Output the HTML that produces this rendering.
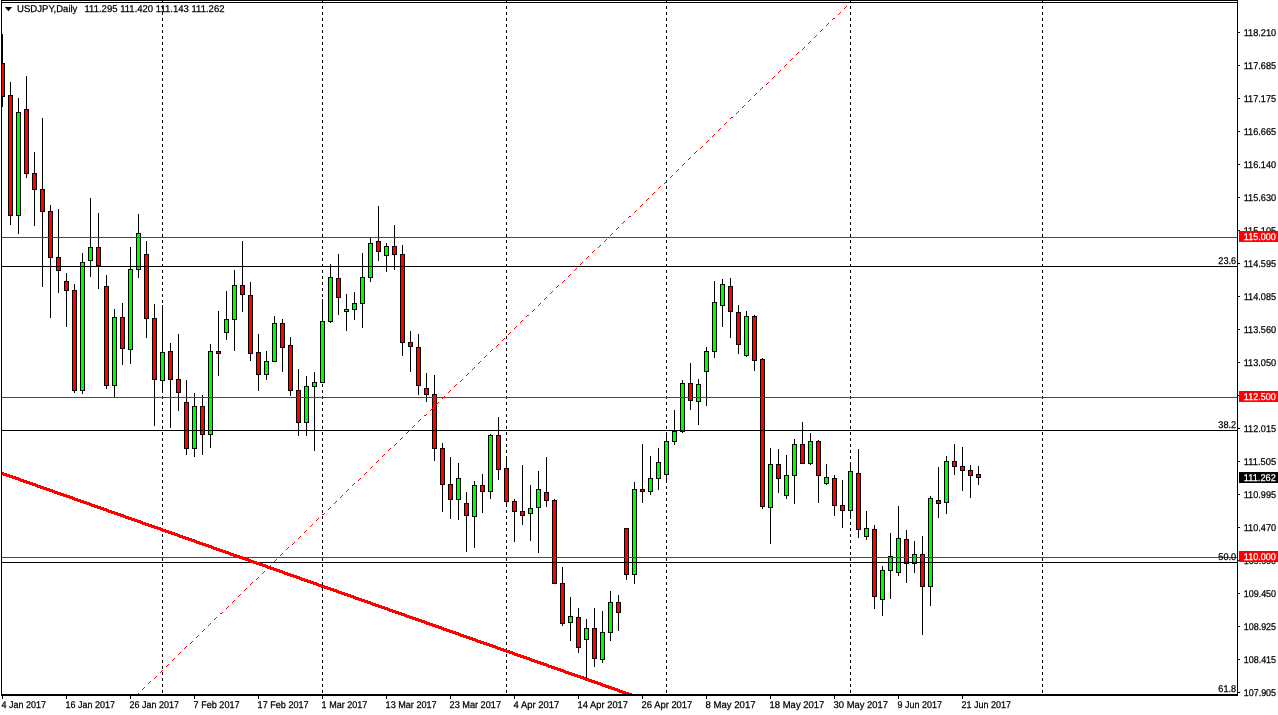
<!DOCTYPE html>
<html><head><meta charset="utf-8"><title>USDJPY,Daily</title>
<style>html,body{margin:0;padding:0;background:#fff;overflow:hidden}svg{display:block}text{font-family:"Liberation Sans",sans-serif;font-size:9.8px;text-rendering:geometricPrecision;fill:#000;stroke:#000;stroke-width:0.25px}.w{fill:#fff;stroke:#fff}</style>
</head><body>
<svg width="1278" height="715" viewBox="0 0 1278 715">
<rect x="0" y="0" width="1278" height="715" fill="#fff"/>
<defs><clipPath id="plot"><rect x="2" y="3" width="1235" height="691"/></clipPath><clipPath id="sep"><rect x="2" y="0" width="1235" height="694"/></clipPath></defs>
<g clip-path="url(#plot)">
<g shape-rendering="crispEdges">
<line x1="162.5" y1="0" x2="162.5" y2="694" stroke="#000" stroke-width="1" stroke-dasharray="3 3"/>
<line x1="322.5" y1="0" x2="322.5" y2="694" stroke="#000" stroke-width="1" stroke-dasharray="3 3"/>
<line x1="506.5" y1="0" x2="506.5" y2="694" stroke="#000" stroke-width="1" stroke-dasharray="3 3"/>
<line x1="666.5" y1="0" x2="666.5" y2="694" stroke="#000" stroke-width="1" stroke-dasharray="3 3"/>
<line x1="850.5" y1="0" x2="850.5" y2="694" stroke="#000" stroke-width="1" stroke-dasharray="3 3"/>
<line x1="1042.5" y1="0" x2="1042.5" y2="694" stroke="#000" stroke-width="1" stroke-dasharray="3 3"/>
</g>
<g shape-rendering="crispEdges">
<rect x="2" y="34" width="1" height="73" fill="#000"/>
<rect x="0" y="63" width="5" height="34" fill="#000"/>
<rect x="1" y="64" width="3" height="32" fill="#f00"/>
<rect x="10" y="82" width="1" height="143" fill="#000"/>
<rect x="8" y="95" width="5" height="121" fill="#000"/>
<rect x="9" y="96" width="3" height="119" fill="#f00"/>
<rect x="18" y="98" width="1" height="136" fill="#000"/>
<rect x="16" y="112" width="5" height="104" fill="#000"/>
<rect x="17" y="113" width="3" height="102" fill="#0f0"/>
<rect x="26" y="76" width="1" height="102" fill="#000"/>
<rect x="24" y="109" width="5" height="65" fill="#000"/>
<rect x="25" y="110" width="3" height="63" fill="#f00"/>
<rect x="34" y="152" width="1" height="74" fill="#000"/>
<rect x="32" y="173" width="5" height="17" fill="#000"/>
<rect x="33" y="174" width="3" height="15" fill="#f00"/>
<rect x="42" y="118" width="1" height="169" fill="#000"/>
<rect x="40" y="189" width="5" height="23" fill="#000"/>
<rect x="41" y="190" width="3" height="21" fill="#f00"/>
<rect x="50" y="205" width="1" height="113" fill="#000"/>
<rect x="48" y="211" width="5" height="47" fill="#000"/>
<rect x="49" y="212" width="3" height="45" fill="#f00"/>
<rect x="58" y="209" width="1" height="84" fill="#000"/>
<rect x="56" y="257" width="5" height="14" fill="#000"/>
<rect x="57" y="258" width="3" height="12" fill="#f00"/>
<rect x="66" y="273" width="1" height="54" fill="#000"/>
<rect x="64" y="281" width="5" height="10" fill="#000"/>
<rect x="65" y="282" width="3" height="8" fill="#f00"/>
<rect x="74" y="284" width="1" height="109" fill="#000"/>
<rect x="72" y="290" width="5" height="101" fill="#000"/>
<rect x="73" y="291" width="3" height="99" fill="#f00"/>
<rect x="82" y="253" width="1" height="141" fill="#000"/>
<rect x="80" y="262" width="5" height="129" fill="#000"/>
<rect x="81" y="263" width="3" height="127" fill="#0f0"/>
<rect x="90" y="198" width="1" height="79" fill="#000"/>
<rect x="88" y="247" width="5" height="14" fill="#000"/>
<rect x="89" y="248" width="3" height="12" fill="#0f0"/>
<rect x="98" y="213" width="1" height="76" fill="#000"/>
<rect x="96" y="247" width="5" height="19" fill="#000"/>
<rect x="97" y="248" width="3" height="17" fill="#f00"/>
<rect x="106" y="275" width="1" height="114" fill="#000"/>
<rect x="104" y="286" width="5" height="100" fill="#000"/>
<rect x="105" y="287" width="3" height="98" fill="#f00"/>
<rect x="114" y="309" width="1" height="88" fill="#000"/>
<rect x="112" y="317" width="5" height="69" fill="#000"/>
<rect x="113" y="318" width="3" height="67" fill="#0f0"/>
<rect x="122" y="303" width="1" height="62" fill="#000"/>
<rect x="120" y="317" width="5" height="32" fill="#000"/>
<rect x="121" y="318" width="3" height="30" fill="#f00"/>
<rect x="130" y="247" width="1" height="117" fill="#000"/>
<rect x="128" y="269" width="5" height="81" fill="#000"/>
<rect x="129" y="270" width="3" height="79" fill="#0f0"/>
<rect x="138" y="214" width="1" height="64" fill="#000"/>
<rect x="136" y="233" width="5" height="37" fill="#000"/>
<rect x="137" y="234" width="3" height="35" fill="#0f0"/>
<rect x="146" y="241" width="1" height="97" fill="#000"/>
<rect x="144" y="254" width="5" height="65" fill="#000"/>
<rect x="145" y="255" width="3" height="63" fill="#f00"/>
<rect x="154" y="304" width="1" height="122" fill="#000"/>
<rect x="152" y="318" width="5" height="62" fill="#000"/>
<rect x="153" y="319" width="3" height="60" fill="#f00"/>
<rect x="162" y="305" width="1" height="87" fill="#000"/>
<rect x="160" y="352" width="5" height="29" fill="#000"/>
<rect x="161" y="353" width="3" height="27" fill="#0f0"/>
<rect x="170" y="343" width="1" height="85" fill="#000"/>
<rect x="168" y="351" width="5" height="29" fill="#000"/>
<rect x="169" y="352" width="3" height="27" fill="#f00"/>
<rect x="178" y="334" width="1" height="77" fill="#000"/>
<rect x="176" y="379" width="5" height="14" fill="#000"/>
<rect x="177" y="380" width="3" height="12" fill="#f00"/>
<rect x="186" y="380" width="1" height="75" fill="#000"/>
<rect x="184" y="402" width="5" height="47" fill="#000"/>
<rect x="185" y="403" width="3" height="45" fill="#f00"/>
<rect x="194" y="393" width="1" height="64" fill="#000"/>
<rect x="192" y="406" width="5" height="43" fill="#000"/>
<rect x="193" y="407" width="3" height="41" fill="#0f0"/>
<rect x="202" y="395" width="1" height="60" fill="#000"/>
<rect x="200" y="406" width="5" height="29" fill="#000"/>
<rect x="201" y="407" width="3" height="27" fill="#f00"/>
<rect x="210" y="344" width="1" height="104" fill="#000"/>
<rect x="208" y="351" width="5" height="84" fill="#000"/>
<rect x="209" y="352" width="3" height="82" fill="#0f0"/>
<rect x="218" y="311" width="1" height="65" fill="#000"/>
<rect x="216" y="351" width="5" height="3" fill="#000"/>
<rect x="217" y="352" width="3" height="1" fill="#f00"/>
<rect x="226" y="291" width="1" height="49" fill="#000"/>
<rect x="224" y="319" width="5" height="14" fill="#000"/>
<rect x="225" y="320" width="3" height="12" fill="#0f0"/>
<rect x="234" y="270" width="1" height="81" fill="#000"/>
<rect x="232" y="285" width="5" height="35" fill="#000"/>
<rect x="233" y="286" width="3" height="33" fill="#0f0"/>
<rect x="242" y="241" width="1" height="71" fill="#000"/>
<rect x="240" y="285" width="5" height="10" fill="#000"/>
<rect x="241" y="286" width="3" height="8" fill="#f00"/>
<rect x="250" y="282" width="1" height="79" fill="#000"/>
<rect x="248" y="295" width="5" height="59" fill="#000"/>
<rect x="249" y="296" width="3" height="57" fill="#f00"/>
<rect x="258" y="334" width="1" height="57" fill="#000"/>
<rect x="256" y="352" width="5" height="23" fill="#000"/>
<rect x="257" y="353" width="3" height="21" fill="#f00"/>
<rect x="266" y="351" width="1" height="29" fill="#000"/>
<rect x="264" y="361" width="5" height="14" fill="#000"/>
<rect x="265" y="362" width="3" height="12" fill="#0f0"/>
<rect x="274" y="316" width="1" height="46" fill="#000"/>
<rect x="272" y="323" width="5" height="39" fill="#000"/>
<rect x="273" y="324" width="3" height="37" fill="#0f0"/>
<rect x="282" y="319" width="1" height="53" fill="#000"/>
<rect x="280" y="323" width="5" height="25" fill="#000"/>
<rect x="281" y="324" width="3" height="23" fill="#f00"/>
<rect x="290" y="337" width="1" height="59" fill="#000"/>
<rect x="288" y="345" width="5" height="46" fill="#000"/>
<rect x="289" y="346" width="3" height="44" fill="#f00"/>
<rect x="298" y="369" width="1" height="67" fill="#000"/>
<rect x="296" y="390" width="5" height="33" fill="#000"/>
<rect x="297" y="391" width="3" height="31" fill="#f00"/>
<rect x="306" y="376" width="1" height="60" fill="#000"/>
<rect x="304" y="386" width="5" height="37" fill="#000"/>
<rect x="305" y="387" width="3" height="35" fill="#0f0"/>
<rect x="314" y="372" width="1" height="79" fill="#000"/>
<rect x="312" y="382" width="5" height="5" fill="#000"/>
<rect x="313" y="383" width="3" height="3" fill="#0f0"/>
<rect x="322" y="299" width="1" height="84" fill="#000"/>
<rect x="320" y="321" width="5" height="62" fill="#000"/>
<rect x="321" y="322" width="3" height="60" fill="#0f0"/>
<rect x="330" y="264" width="1" height="59" fill="#000"/>
<rect x="328" y="277" width="5" height="45" fill="#000"/>
<rect x="329" y="278" width="3" height="43" fill="#0f0"/>
<rect x="338" y="254" width="1" height="61" fill="#000"/>
<rect x="336" y="278" width="5" height="20" fill="#000"/>
<rect x="337" y="279" width="3" height="18" fill="#f00"/>
<rect x="346" y="294" width="1" height="37" fill="#000"/>
<rect x="344" y="309" width="5" height="3" fill="#000"/>
<rect x="345" y="310" width="3" height="1" fill="#0f0"/>
<rect x="354" y="292" width="1" height="28" fill="#000"/>
<rect x="352" y="303" width="5" height="7" fill="#000"/>
<rect x="353" y="304" width="3" height="5" fill="#0f0"/>
<rect x="362" y="253" width="1" height="75" fill="#000"/>
<rect x="360" y="277" width="5" height="27" fill="#000"/>
<rect x="361" y="278" width="3" height="25" fill="#0f0"/>
<rect x="370" y="238" width="1" height="44" fill="#000"/>
<rect x="368" y="243" width="5" height="35" fill="#000"/>
<rect x="369" y="244" width="3" height="33" fill="#0f0"/>
<rect x="378" y="206" width="1" height="55" fill="#000"/>
<rect x="376" y="241" width="5" height="11" fill="#000"/>
<rect x="377" y="242" width="3" height="9" fill="#f00"/>
<rect x="386" y="243" width="1" height="29" fill="#000"/>
<rect x="384" y="246" width="5" height="10" fill="#000"/>
<rect x="385" y="247" width="3" height="8" fill="#0f0"/>
<rect x="394" y="225" width="1" height="45" fill="#000"/>
<rect x="392" y="246" width="5" height="9" fill="#000"/>
<rect x="393" y="247" width="3" height="7" fill="#f00"/>
<rect x="402" y="245" width="1" height="111" fill="#000"/>
<rect x="400" y="254" width="5" height="89" fill="#000"/>
<rect x="401" y="255" width="3" height="87" fill="#f00"/>
<rect x="410" y="331" width="1" height="41" fill="#000"/>
<rect x="408" y="342" width="5" height="5" fill="#000"/>
<rect x="409" y="343" width="3" height="3" fill="#f00"/>
<rect x="418" y="334" width="1" height="61" fill="#000"/>
<rect x="416" y="347" width="5" height="39" fill="#000"/>
<rect x="417" y="348" width="3" height="37" fill="#f00"/>
<rect x="426" y="373" width="1" height="29" fill="#000"/>
<rect x="424" y="388" width="5" height="7" fill="#000"/>
<rect x="425" y="389" width="3" height="5" fill="#f00"/>
<rect x="434" y="375" width="1" height="86" fill="#000"/>
<rect x="432" y="394" width="5" height="55" fill="#000"/>
<rect x="433" y="395" width="3" height="53" fill="#f00"/>
<rect x="442" y="443" width="1" height="69" fill="#000"/>
<rect x="440" y="448" width="5" height="37" fill="#000"/>
<rect x="441" y="449" width="3" height="35" fill="#f00"/>
<rect x="450" y="457" width="1" height="62" fill="#000"/>
<rect x="448" y="484" width="5" height="16" fill="#000"/>
<rect x="449" y="485" width="3" height="14" fill="#f00"/>
<rect x="458" y="463" width="1" height="57" fill="#000"/>
<rect x="456" y="478" width="5" height="22" fill="#000"/>
<rect x="457" y="479" width="3" height="20" fill="#0f0"/>
<rect x="466" y="492" width="1" height="60" fill="#000"/>
<rect x="464" y="503" width="5" height="13" fill="#000"/>
<rect x="465" y="504" width="3" height="11" fill="#f00"/>
<rect x="474" y="481" width="1" height="67" fill="#000"/>
<rect x="472" y="485" width="5" height="32" fill="#000"/>
<rect x="473" y="486" width="3" height="30" fill="#0f0"/>
<rect x="482" y="474" width="1" height="39" fill="#000"/>
<rect x="480" y="485" width="5" height="7" fill="#000"/>
<rect x="481" y="486" width="3" height="5" fill="#f00"/>
<rect x="490" y="434" width="1" height="65" fill="#000"/>
<rect x="488" y="435" width="5" height="57" fill="#000"/>
<rect x="489" y="436" width="3" height="55" fill="#0f0"/>
<rect x="498" y="417" width="1" height="63" fill="#000"/>
<rect x="496" y="435" width="5" height="35" fill="#000"/>
<rect x="497" y="436" width="3" height="33" fill="#f00"/>
<rect x="506" y="456" width="1" height="51" fill="#000"/>
<rect x="504" y="468" width="5" height="34" fill="#000"/>
<rect x="505" y="469" width="3" height="32" fill="#f00"/>
<rect x="514" y="499" width="1" height="43" fill="#000"/>
<rect x="512" y="501" width="5" height="11" fill="#000"/>
<rect x="513" y="502" width="3" height="9" fill="#f00"/>
<rect x="522" y="465" width="1" height="60" fill="#000"/>
<rect x="520" y="511" width="5" height="5" fill="#000"/>
<rect x="521" y="512" width="3" height="3" fill="#f00"/>
<rect x="530" y="485" width="1" height="56" fill="#000"/>
<rect x="528" y="508" width="5" height="6" fill="#000"/>
<rect x="529" y="509" width="3" height="4" fill="#0f0"/>
<rect x="538" y="471" width="1" height="82" fill="#000"/>
<rect x="536" y="489" width="5" height="19" fill="#000"/>
<rect x="537" y="490" width="3" height="17" fill="#0f0"/>
<rect x="546" y="457" width="1" height="50" fill="#000"/>
<rect x="544" y="492" width="5" height="9" fill="#000"/>
<rect x="545" y="493" width="3" height="7" fill="#f00"/>
<rect x="554" y="499" width="1" height="85" fill="#000"/>
<rect x="552" y="500" width="5" height="84" fill="#000"/>
<rect x="553" y="501" width="3" height="82" fill="#f00"/>
<rect x="562" y="567" width="1" height="59" fill="#000"/>
<rect x="560" y="583" width="5" height="41" fill="#000"/>
<rect x="561" y="584" width="3" height="39" fill="#f00"/>
<rect x="570" y="597" width="1" height="44" fill="#000"/>
<rect x="568" y="616" width="5" height="7" fill="#000"/>
<rect x="569" y="617" width="3" height="5" fill="#0f0"/>
<rect x="578" y="608" width="1" height="45" fill="#000"/>
<rect x="576" y="617" width="5" height="31" fill="#000"/>
<rect x="577" y="618" width="3" height="29" fill="#f00"/>
<rect x="586" y="619" width="1" height="59" fill="#000"/>
<rect x="584" y="628" width="5" height="12" fill="#000"/>
<rect x="585" y="629" width="3" height="10" fill="#0f0"/>
<rect x="594" y="608" width="1" height="59" fill="#000"/>
<rect x="592" y="628" width="5" height="31" fill="#000"/>
<rect x="593" y="629" width="3" height="29" fill="#f00"/>
<rect x="602" y="611" width="1" height="52" fill="#000"/>
<rect x="600" y="632" width="5" height="28" fill="#000"/>
<rect x="601" y="633" width="3" height="26" fill="#0f0"/>
<rect x="610" y="591" width="1" height="50" fill="#000"/>
<rect x="608" y="602" width="5" height="31" fill="#000"/>
<rect x="609" y="603" width="3" height="29" fill="#0f0"/>
<rect x="618" y="595" width="1" height="36" fill="#000"/>
<rect x="616" y="602" width="5" height="11" fill="#000"/>
<rect x="617" y="603" width="3" height="9" fill="#f00"/>
<rect x="626" y="528" width="1" height="52" fill="#000"/>
<rect x="624" y="528" width="5" height="47" fill="#000"/>
<rect x="625" y="529" width="3" height="45" fill="#f00"/>
<rect x="634" y="482" width="1" height="102" fill="#000"/>
<rect x="632" y="489" width="5" height="86" fill="#000"/>
<rect x="633" y="490" width="3" height="84" fill="#0f0"/>
<rect x="642" y="444" width="1" height="59" fill="#000"/>
<rect x="640" y="489" width="5" height="3" fill="#000"/>
<rect x="641" y="490" width="3" height="1" fill="#f00"/>
<rect x="650" y="456" width="1" height="39" fill="#000"/>
<rect x="648" y="478" width="5" height="14" fill="#000"/>
<rect x="649" y="479" width="3" height="12" fill="#0f0"/>
<rect x="658" y="448" width="1" height="42" fill="#000"/>
<rect x="656" y="462" width="5" height="17" fill="#000"/>
<rect x="657" y="463" width="3" height="15" fill="#0f0"/>
<rect x="666" y="432" width="1" height="51" fill="#000"/>
<rect x="664" y="441" width="5" height="34" fill="#000"/>
<rect x="665" y="442" width="3" height="32" fill="#0f0"/>
<rect x="674" y="410" width="1" height="35" fill="#000"/>
<rect x="672" y="431" width="5" height="11" fill="#000"/>
<rect x="673" y="432" width="3" height="9" fill="#0f0"/>
<rect x="682" y="380" width="1" height="53" fill="#000"/>
<rect x="680" y="383" width="5" height="49" fill="#000"/>
<rect x="681" y="384" width="3" height="47" fill="#0f0"/>
<rect x="690" y="363" width="1" height="47" fill="#000"/>
<rect x="688" y="383" width="5" height="18" fill="#000"/>
<rect x="689" y="384" width="3" height="16" fill="#f00"/>
<rect x="698" y="379" width="1" height="46" fill="#000"/>
<rect x="696" y="384" width="5" height="18" fill="#000"/>
<rect x="697" y="385" width="3" height="16" fill="#0f0"/>
<rect x="706" y="347" width="1" height="59" fill="#000"/>
<rect x="704" y="351" width="5" height="21" fill="#000"/>
<rect x="705" y="352" width="3" height="19" fill="#0f0"/>
<rect x="714" y="281" width="1" height="77" fill="#000"/>
<rect x="712" y="302" width="5" height="50" fill="#000"/>
<rect x="713" y="303" width="3" height="48" fill="#0f0"/>
<rect x="722" y="279" width="1" height="48" fill="#000"/>
<rect x="720" y="284" width="5" height="22" fill="#000"/>
<rect x="721" y="285" width="3" height="20" fill="#0f0"/>
<rect x="730" y="278" width="1" height="60" fill="#000"/>
<rect x="728" y="286" width="5" height="26" fill="#000"/>
<rect x="729" y="287" width="3" height="24" fill="#f00"/>
<rect x="738" y="305" width="1" height="49" fill="#000"/>
<rect x="736" y="312" width="5" height="33" fill="#000"/>
<rect x="737" y="313" width="3" height="31" fill="#f00"/>
<rect x="746" y="311" width="1" height="46" fill="#000"/>
<rect x="744" y="316" width="5" height="40" fill="#000"/>
<rect x="745" y="317" width="3" height="38" fill="#0f0"/>
<rect x="754" y="315" width="1" height="56" fill="#000"/>
<rect x="752" y="316" width="5" height="45" fill="#000"/>
<rect x="753" y="317" width="3" height="43" fill="#f00"/>
<rect x="762" y="358" width="1" height="151" fill="#000"/>
<rect x="760" y="359" width="5" height="148" fill="#000"/>
<rect x="761" y="360" width="3" height="146" fill="#f00"/>
<rect x="770" y="448" width="1" height="96" fill="#000"/>
<rect x="768" y="464" width="5" height="44" fill="#000"/>
<rect x="769" y="465" width="3" height="42" fill="#0f0"/>
<rect x="778" y="449" width="1" height="44" fill="#000"/>
<rect x="776" y="464" width="5" height="15" fill="#000"/>
<rect x="777" y="465" width="3" height="13" fill="#f00"/>
<rect x="786" y="455" width="1" height="44" fill="#000"/>
<rect x="784" y="475" width="5" height="21" fill="#000"/>
<rect x="785" y="476" width="3" height="19" fill="#0f0"/>
<rect x="794" y="439" width="1" height="65" fill="#000"/>
<rect x="792" y="444" width="5" height="32" fill="#000"/>
<rect x="793" y="445" width="3" height="30" fill="#0f0"/>
<rect x="802" y="422" width="1" height="42" fill="#000"/>
<rect x="800" y="444" width="5" height="20" fill="#000"/>
<rect x="801" y="445" width="3" height="18" fill="#f00"/>
<rect x="810" y="433" width="1" height="32" fill="#000"/>
<rect x="808" y="441" width="5" height="23" fill="#000"/>
<rect x="809" y="442" width="3" height="21" fill="#0f0"/>
<rect x="818" y="440" width="1" height="63" fill="#000"/>
<rect x="816" y="441" width="5" height="35" fill="#000"/>
<rect x="817" y="442" width="3" height="33" fill="#f00"/>
<rect x="826" y="464" width="1" height="21" fill="#000"/>
<rect x="824" y="477" width="5" height="7" fill="#000"/>
<rect x="825" y="478" width="3" height="5" fill="#0f0"/>
<rect x="834" y="475" width="1" height="41" fill="#000"/>
<rect x="832" y="478" width="5" height="28" fill="#000"/>
<rect x="833" y="479" width="3" height="26" fill="#f00"/>
<rect x="842" y="480" width="1" height="48" fill="#000"/>
<rect x="840" y="505" width="5" height="6" fill="#000"/>
<rect x="841" y="506" width="3" height="4" fill="#f00"/>
<rect x="850" y="462" width="1" height="56" fill="#000"/>
<rect x="848" y="471" width="5" height="40" fill="#000"/>
<rect x="849" y="472" width="3" height="38" fill="#0f0"/>
<rect x="858" y="449" width="1" height="89" fill="#000"/>
<rect x="856" y="473" width="5" height="57" fill="#000"/>
<rect x="857" y="474" width="3" height="55" fill="#f00"/>
<rect x="866" y="511" width="1" height="29" fill="#000"/>
<rect x="864" y="528" width="5" height="9" fill="#000"/>
<rect x="865" y="529" width="3" height="7" fill="#0f0"/>
<rect x="874" y="525" width="1" height="84" fill="#000"/>
<rect x="872" y="529" width="5" height="68" fill="#000"/>
<rect x="873" y="530" width="3" height="66" fill="#f00"/>
<rect x="882" y="566" width="1" height="50" fill="#000"/>
<rect x="880" y="570" width="5" height="30" fill="#000"/>
<rect x="881" y="571" width="3" height="28" fill="#0f0"/>
<rect x="890" y="533" width="1" height="66" fill="#000"/>
<rect x="888" y="556" width="5" height="15" fill="#000"/>
<rect x="889" y="557" width="3" height="13" fill="#0f0"/>
<rect x="898" y="506" width="1" height="70" fill="#000"/>
<rect x="896" y="538" width="5" height="35" fill="#000"/>
<rect x="897" y="539" width="3" height="33" fill="#0f0"/>
<rect x="906" y="530" width="1" height="53" fill="#000"/>
<rect x="904" y="539" width="5" height="25" fill="#000"/>
<rect x="905" y="540" width="3" height="23" fill="#f00"/>
<rect x="914" y="541" width="1" height="32" fill="#000"/>
<rect x="912" y="554" width="5" height="10" fill="#000"/>
<rect x="913" y="555" width="3" height="8" fill="#0f0"/>
<rect x="922" y="536" width="1" height="99" fill="#000"/>
<rect x="920" y="554" width="5" height="33" fill="#000"/>
<rect x="921" y="555" width="3" height="31" fill="#f00"/>
<rect x="930" y="496" width="1" height="110" fill="#000"/>
<rect x="928" y="498" width="5" height="89" fill="#000"/>
<rect x="929" y="499" width="3" height="87" fill="#0f0"/>
<rect x="938" y="467" width="1" height="51" fill="#000"/>
<rect x="936" y="500" width="5" height="4" fill="#000"/>
<rect x="937" y="501" width="3" height="2" fill="#f00"/>
<rect x="946" y="456" width="1" height="58" fill="#000"/>
<rect x="944" y="461" width="5" height="42" fill="#000"/>
<rect x="945" y="462" width="3" height="40" fill="#0f0"/>
<rect x="954" y="444" width="1" height="31" fill="#000"/>
<rect x="952" y="461" width="5" height="6" fill="#000"/>
<rect x="953" y="462" width="3" height="4" fill="#f00"/>
<rect x="962" y="447" width="1" height="44" fill="#000"/>
<rect x="960" y="466" width="5" height="5" fill="#000"/>
<rect x="961" y="467" width="3" height="3" fill="#f00"/>
<rect x="970" y="465" width="1" height="33" fill="#000"/>
<rect x="968" y="470" width="5" height="6" fill="#000"/>
<rect x="969" y="471" width="3" height="4" fill="#f00"/>
<rect x="978" y="466" width="1" height="19" fill="#000"/>
<rect x="976" y="474" width="5" height="4" fill="#000"/>
<rect x="977" y="475" width="3" height="2" fill="#f00"/>
</g>
<g shape-rendering="crispEdges">
<rect x="2" y="266" width="1235" height="1" fill="#000"/>
<rect x="2" y="430" width="1235" height="1" fill="#000"/>
<rect x="2" y="562" width="1235" height="1" fill="#000"/>
<rect x="2" y="237" width="1235" height="1" fill="#f00"/>
<rect x="2" y="397" width="1235" height="1" fill="#f00"/>
<rect x="2" y="557" width="1235" height="1" fill="#f00"/>
</g>
<path fill="#f00" shape-rendering="crispEdges" d="M1 471L2 471L2 472L4 472L4 473L7 473L7 474L10 474L10 475L13 475L13 476L16 476L16 477L19 477L19 478L21 478L21 479L24 479L24 480L27 480L27 481L30 481L30 482L33 482L33 483L36 483L36 484L38 484L38 485L41 485L41 486L44 486L44 487L47 487L47 488L50 488L50 489L53 489L53 490L55 490L55 491L58 491L58 492L61 492L61 493L64 493L64 494L67 494L67 495L70 495L70 496L73 496L73 497L75 497L75 498L78 498L78 499L81 499L81 500L84 500L84 501L87 501L87 502L90 502L90 503L92 503L92 504L95 504L95 505L98 505L98 506L101 506L101 507L104 507L104 508L107 508L107 509L109 509L109 510L112 510L112 511L115 511L115 512L118 512L118 513L121 513L121 514L124 514L124 515L126 515L126 516L129 516L129 517L132 517L132 518L135 518L135 519L138 519L138 520L141 520L141 521L143 521L143 522L146 522L146 523L149 523L149 524L152 524L152 525L155 525L155 526L158 526L158 527L161 527L161 528L163 528L163 529L166 529L166 530L169 530L169 531L172 531L172 532L175 532L175 533L178 533L178 534L180 534L180 535L183 535L183 536L186 536L186 537L189 537L189 538L192 538L192 539L195 539L195 540L197 540L197 541L200 541L200 542L203 542L203 543L206 543L206 544L209 544L209 545L212 545L212 546L214 546L214 547L217 547L217 548L220 548L220 549L223 549L223 550L226 550L226 551L229 551L229 552L231 552L231 553L234 553L234 554L237 554L237 555L240 555L240 556L243 556L243 557L246 557L246 558L249 558L249 559L251 559L251 560L254 560L254 561L257 561L257 562L260 562L260 563L263 563L263 564L266 564L266 565L268 565L268 566L271 566L271 567L274 567L274 568L277 568L277 569L280 569L280 570L283 570L283 571L285 571L285 572L288 572L288 573L291 573L291 574L294 574L294 575L297 575L297 576L300 576L300 577L302 577L302 578L305 578L305 579L308 579L308 580L311 580L311 581L314 581L314 582L317 582L317 583L319 583L319 584L322 584L322 585L325 585L325 586L328 586L328 587L331 587L331 588L334 588L334 589L337 589L337 590L339 590L339 591L342 591L342 592L345 592L345 593L348 593L348 594L351 594L351 595L354 595L354 596L356 596L356 597L359 597L359 598L362 598L362 599L365 599L365 600L368 600L368 601L371 601L371 602L373 602L373 603L376 603L376 604L379 604L379 605L382 605L382 606L385 606L385 607L388 607L388 608L390 608L390 609L393 609L393 610L396 610L396 611L399 611L399 612L402 612L402 613L405 613L405 614L407 614L407 615L410 615L410 616L413 616L413 617L416 617L416 618L419 618L419 619L422 619L422 620L425 620L425 621L427 621L427 622L430 622L430 623L433 623L433 624L436 624L436 625L439 625L439 626L442 626L442 627L444 627L444 628L447 628L447 629L450 629L450 630L453 630L453 631L456 631L456 632L459 632L459 633L461 633L461 634L464 634L464 635L467 635L467 636L470 636L470 637L473 637L473 638L476 638L476 639L478 639L478 640L481 640L481 641L484 641L484 642L487 642L487 643L490 643L490 644L493 644L493 645L496 645L496 646L498 646L498 647L501 647L501 648L504 648L504 649L507 649L507 650L510 650L510 651L513 651L513 652L515 652L515 653L518 653L518 654L521 654L521 655L524 655L524 656L527 656L527 657L530 657L530 658L532 658L532 659L535 659L535 660L538 660L538 661L541 661L541 662L544 662L544 663L547 663L547 664L549 664L549 665L552 665L552 666L555 666L555 667L558 667L558 668L561 668L561 669L564 669L564 670L566 670L566 671L569 671L569 672L572 672L572 673L575 673L575 674L578 674L578 675L581 675L581 676L584 676L584 677L586 677L586 678L589 678L589 679L592 679L592 680L595 680L595 681L598 681L598 682L601 682L601 683L603 683L603 684L606 684L606 685L609 685L609 686L612 686L612 687L615 687L615 688L618 688L618 689L620 689L620 690L623 690L623 691L626 691L626 692L629 692L629 693L632 693L632 694L635 694L635 695L637 695L637 696L640 696L640 700L639 700L639 699L636 699L636 698L634 698L634 697L631 697L631 696L628 696L628 695L625 695L625 694L622 694L622 693L619 693L619 692L617 692L617 691L614 691L614 690L611 690L611 689L608 689L608 688L605 688L605 687L602 687L602 686L600 686L600 685L597 685L597 684L594 684L594 683L591 683L591 682L588 682L588 681L585 681L585 680L583 680L583 679L580 679L580 678L577 678L577 677L574 677L574 676L571 676L571 675L568 675L568 674L565 674L565 673L563 673L563 672L560 672L560 671L557 671L557 670L554 670L554 669L551 669L551 668L548 668L548 667L546 667L546 666L543 666L543 665L540 665L540 664L537 664L537 663L534 663L534 662L531 662L531 661L529 661L529 660L526 660L526 659L523 659L523 658L520 658L520 657L517 657L517 656L514 656L514 655L512 655L512 654L509 654L509 653L506 653L506 652L503 652L503 651L500 651L500 650L497 650L497 649L495 649L495 648L492 648L492 647L489 647L489 646L486 646L486 645L483 645L483 644L480 644L480 643L477 643L477 642L475 642L475 641L472 641L472 640L469 640L469 639L466 639L466 638L463 638L463 637L460 637L460 636L458 636L458 635L455 635L455 634L452 634L452 633L449 633L449 632L446 632L446 631L443 631L443 630L441 630L441 629L438 629L438 628L435 628L435 627L432 627L432 626L429 626L429 625L426 625L426 624L424 624L424 623L421 623L421 622L418 622L418 621L415 621L415 620L412 620L412 619L409 619L409 618L406 618L406 617L404 617L404 616L401 616L401 615L398 615L398 614L395 614L395 613L392 613L392 612L389 612L389 611L387 611L387 610L384 610L384 609L381 609L381 608L378 608L378 607L375 607L375 606L372 606L372 605L370 605L370 604L367 604L367 603L364 603L364 602L361 602L361 601L358 601L358 600L355 600L355 599L353 599L353 598L350 598L350 597L347 597L347 596L344 596L344 595L341 595L341 594L338 594L338 593L336 593L336 592L333 592L333 591L330 591L330 590L327 590L327 589L324 589L324 588L321 588L321 587L318 587L318 586L316 586L316 585L313 585L313 584L310 584L310 583L307 583L307 582L304 582L304 581L301 581L301 580L299 580L299 579L296 579L296 578L293 578L293 577L290 577L290 576L287 576L287 575L284 575L284 574L282 574L282 573L279 573L279 572L276 572L276 571L273 571L273 570L270 570L270 569L267 569L267 568L265 568L265 567L262 567L262 566L259 566L259 565L256 565L256 564L253 564L253 563L250 563L250 562L248 562L248 561L245 561L245 560L242 560L242 559L239 559L239 558L236 558L236 557L233 557L233 556L230 556L230 555L228 555L228 554L225 554L225 553L222 553L222 552L219 552L219 551L216 551L216 550L213 550L213 549L211 549L211 548L208 548L208 547L205 547L205 546L202 546L202 545L199 545L199 544L196 544L196 543L194 543L194 542L191 542L191 541L188 541L188 540L185 540L185 539L182 539L182 538L179 538L179 537L177 537L177 536L174 536L174 535L171 535L171 534L168 534L168 533L165 533L165 532L162 532L162 531L160 531L160 530L157 530L157 529L154 529L154 528L151 528L151 527L148 527L148 526L145 526L145 525L142 525L142 524L140 524L140 523L137 523L137 522L134 522L134 521L131 521L131 520L128 520L128 519L125 519L125 518L123 518L123 517L120 517L120 516L117 516L117 515L114 515L114 514L111 514L111 513L108 513L108 512L106 512L106 511L103 511L103 510L100 510L100 509L97 509L97 508L94 508L94 507L91 507L91 506L89 506L89 505L86 505L86 504L83 504L83 503L80 503L80 502L77 502L77 501L74 501L74 500L72 500L72 499L69 499L69 498L66 498L66 497L63 497L63 496L60 496L60 495L57 495L57 494L54 494L54 493L52 493L52 492L49 492L49 491L46 491L46 490L43 490L43 489L40 489L40 488L37 488L37 487L35 487L35 486L32 486L32 485L29 485L29 484L26 484L26 483L23 483L23 482L20 482L20 481L18 481L18 480L15 480L15 479L12 479L12 478L9 478L9 477L6 477L6 476L3 476L3 475L1 475Z"/>
<path stroke="#f00" stroke-width="1" fill="none" shape-rendering="crispEdges" d="M130 701.5h1M131 700.5h1M132 699.5h1M136 695.5h1M137 694.5h1M138 693.5h1M142 689.5h1M143 688.5h1M144 687.5h1M148 683.5h1M149 682.5h1M150 681.5h1M154 678.5h1M155 677.5h1M156 676.5h1M160 672.5h1M161 671.5h1M162 670.5h1M166 666.5h1M167 665.5h1M168 664.5h1M172 660.5h1M173 659.5h1M174 658.5h1M178 654.5h1M179 653.5h1M180 652.5h1M184 648.5h1M185 647.5h1M186 646.5h1M190 643.5h1M191 642.5h1M192 641.5h1M196 637.5h1M197 636.5h1M198 635.5h1M202 631.5h1M203 630.5h1M204 629.5h1M208 625.5h1M209 624.5h1M210 623.5h1M214 619.5h1M215 618.5h1M216 617.5h1M220 613.5h1M221 613.5h1M222 612.5h1M226 608.5h1M227 607.5h1M228 606.5h1M232 602.5h1M233 601.5h1M234 600.5h1M238 596.5h1M239 595.5h1M240 594.5h1M244 590.5h1M245 589.5h1M246 588.5h1M250 584.5h1M251 583.5h1M252 582.5h1M256 579.5h1M257 578.5h1M258 577.5h1M262 573.5h1M263 572.5h1M264 571.5h1M268 567.5h1M269 566.5h1M270 565.5h1M274 561.5h1M275 560.5h1M276 559.5h1M280 555.5h1M281 554.5h1M282 553.5h1M286 549.5h1M287 548.5h1M288 547.5h1M292 544.5h1M293 543.5h1M294 542.5h1M298 538.5h1M299 537.5h1M300 536.5h1M304 532.5h1M305 531.5h1M306 530.5h1M310 526.5h1M311 525.5h1M312 524.5h1M316 520.5h1M317 519.5h1M318 518.5h1M322 514.5h1M323 514.5h1M324 513.5h1M328 509.5h1M329 508.5h1M330 507.5h1M334 503.5h1M335 502.5h1M336 501.5h1M340 497.5h1M341 496.5h1M342 495.5h1M346 491.5h1M347 490.5h1M348 489.5h1M352 485.5h1M353 484.5h1M354 483.5h1M358 480.5h1M359 479.5h1M360 478.5h1M364 474.5h1M365 473.5h1M366 472.5h1M370 468.5h1M371 467.5h1M372 466.5h1M376 462.5h1M377 461.5h1M378 460.5h1M382 456.5h1M383 455.5h1M384 454.5h1M388 450.5h1M389 449.5h1M390 448.5h1M394 445.5h1M395 444.5h1M396 443.5h1M400 439.5h1M401 438.5h1M402 437.5h1M406 433.5h1M407 432.5h1M408 431.5h1M412 427.5h1M413 426.5h1M414 425.5h1M418 421.5h1M419 420.5h1M420 419.5h1M424 415.5h1M425 415.5h1M426 414.5h1M430 410.5h1M431 409.5h1M432 408.5h1M436 404.5h1M437 403.5h1M438 402.5h1M442 398.5h1M443 397.5h1M444 396.5h1M448 392.5h1M449 391.5h1M450 390.5h1M454 386.5h1M455 385.5h1M456 384.5h1M460 381.5h1M461 380.5h1M462 379.5h1M466 375.5h1M467 374.5h1M468 373.5h1M472 369.5h1M473 368.5h1M474 367.5h1M478 363.5h1M479 362.5h1M480 361.5h1M484 357.5h1M485 356.5h1M486 355.5h1M490 351.5h1M491 350.5h1M492 349.5h1M496 346.5h1M497 345.5h1M498 344.5h1M502 340.5h1M503 339.5h1M504 338.5h1M508 334.5h1M509 333.5h1M510 332.5h1M514 328.5h1M515 327.5h1M516 326.5h1M520 322.5h1M521 321.5h1M522 320.5h1M526 316.5h1M527 315.5h1M528 315.5h1M532 311.5h1M533 310.5h1M534 309.5h1M538 305.5h1M539 304.5h1M540 303.5h1M544 299.5h1M545 298.5h1M546 297.5h1M550 293.5h1M551 292.5h1M552 291.5h1M556 287.5h1M557 286.5h1M558 285.5h1M562 282.5h1M563 281.5h1M564 280.5h1M568 276.5h1M569 275.5h1M570 274.5h1M574 270.5h1M575 269.5h1M576 268.5h1M580 264.5h1M581 263.5h1M582 262.5h1M586 258.5h1M587 257.5h1M588 256.5h1M592 252.5h1M593 251.5h1M594 250.5h1M598 247.5h1M599 246.5h1M600 245.5h1M604 241.5h1M605 240.5h1M606 239.5h1M610 235.5h1M611 234.5h1M612 233.5h1M616 229.5h1M617 228.5h1M618 227.5h1M622 223.5h1M623 222.5h1M624 221.5h1M628 217.5h1M629 216.5h1M630 216.5h1M634 212.5h1M635 211.5h1M636 210.5h1M640 206.5h1M641 205.5h1M642 204.5h1M646 200.5h1M647 199.5h1M648 198.5h1M652 194.5h1M653 193.5h1M654 192.5h1M658 188.5h1M659 187.5h1M660 186.5h1M664 183.5h1M665 182.5h1M666 181.5h1M670 177.5h1M671 176.5h1M672 175.5h1M676 171.5h1M677 170.5h1M678 169.5h1M682 165.5h1M683 164.5h1M684 163.5h1M688 159.5h1M689 158.5h1M690 157.5h1M694 153.5h1M695 152.5h1M696 151.5h1M700 148.5h1M701 147.5h1M702 146.5h1M706 142.5h1M707 141.5h1M708 140.5h1M712 136.5h1M713 135.5h1M714 134.5h1M718 130.5h1M719 129.5h1M720 128.5h1M724 124.5h1M725 123.5h1M726 122.5h1M730 118.5h1M731 117.5h1M732 117.5h1M736 113.5h1M737 112.5h1M738 111.5h1M742 107.5h1M743 106.5h1M744 105.5h1M748 101.5h1M749 100.5h1M750 99.5h1M754 95.5h1M755 94.5h1M756 93.5h1M760 89.5h1M761 88.5h1M762 87.5h1M766 84.5h1M767 83.5h1M768 82.5h1M772 78.5h1M773 77.5h1M774 76.5h1M778 72.5h1M779 71.5h1M780 70.5h1M784 66.5h1M785 65.5h1M786 64.5h1M790 60.5h1M791 59.5h1M792 58.5h1M796 54.5h1M797 53.5h1M798 52.5h1M802 49.5h1M803 48.5h1M804 47.5h1M808 43.5h1M809 42.5h1M810 41.5h1M814 37.5h1M815 36.5h1M816 35.5h1M820 31.5h1M821 30.5h1M822 29.5h1M826 25.5h1M827 24.5h1M828 23.5h1M832 19.5h1M833 18.5h1M834 18.5h1M838 14.5h1M839 13.5h1M840 12.5h1M844 8.5h1M845 7.5h1M846 6.5h1"/>
</g>
<g shape-rendering="crispEdges" fill="#000">
<rect x="1" y="0" width="1237" height="1"/>
<rect x="1" y="2" width="1237" height="1"/>
<rect x="1" y="0" width="1" height="696"/>
<rect x="1237" y="0" width="1" height="696"/>
<rect x="1" y="694" width="1237" height="2"/>
<rect x="162" y="1" width="1" height="1"/>
<rect x="322" y="1" width="1" height="1"/>
<rect x="506" y="1" width="1" height="1"/>
<rect x="666" y="1" width="1" height="1"/>
<rect x="850" y="1" width="1" height="1"/>
<rect x="1042" y="1" width="1" height="1"/>
<rect x="2" y="696" width="1" height="3"/>
<rect x="66" y="696" width="1" height="3"/>
<rect x="130" y="696" width="1" height="3"/>
<rect x="194" y="696" width="1" height="3"/>
<rect x="258" y="696" width="1" height="3"/>
<rect x="322" y="696" width="1" height="3"/>
<rect x="386" y="696" width="1" height="3"/>
<rect x="450" y="696" width="1" height="3"/>
<rect x="514" y="696" width="1" height="3"/>
<rect x="578" y="696" width="1" height="3"/>
<rect x="642" y="696" width="1" height="3"/>
<rect x="706" y="696" width="1" height="3"/>
<rect x="770" y="696" width="1" height="3"/>
<rect x="834" y="696" width="1" height="3"/>
<rect x="898" y="696" width="1" height="3"/>
<rect x="962" y="696" width="1" height="3"/>
<rect x="1238" y="32" width="2" height="1"/>
<rect x="1238" y="65" width="2" height="1"/>
<rect x="1238" y="98" width="2" height="1"/>
<rect x="1238" y="131" width="2" height="1"/>
<rect x="1238" y="164" width="2" height="1"/>
<rect x="1238" y="197" width="2" height="1"/>
<rect x="1238" y="230" width="2" height="1"/>
<rect x="1238" y="263" width="2" height="1"/>
<rect x="1238" y="296" width="2" height="1"/>
<rect x="1238" y="329" width="2" height="1"/>
<rect x="1238" y="362" width="2" height="1"/>
<rect x="1238" y="395" width="2" height="1"/>
<rect x="1238" y="428" width="2" height="1"/>
<rect x="1238" y="461" width="2" height="1"/>
<rect x="1238" y="494" width="2" height="1"/>
<rect x="1238" y="527" width="2" height="1"/>
<rect x="1238" y="560" width="2" height="1"/>
<rect x="1238" y="593" width="2" height="1"/>
<rect x="1238" y="626" width="2" height="1"/>
<rect x="1238" y="659" width="2" height="1"/>
<rect x="1238" y="692" width="2" height="1"/>
</g>
<polygon points="4.8,6.9 12.1,6.9 8.45,11.2" fill="#000"/>
<text x="17.1" y="12" textLength="60.3" lengthAdjust="spacingAndGlyphs">USDJPY,Daily</text>
<text x="84.5" y="12" textLength="140" lengthAdjust="spacingAndGlyphs">111.295 111.420 111.143 111.262</text>
<text x="1.6" y="708" textLength="44.5" lengthAdjust="spacingAndGlyphs">4 Jan 2017</text>
<text x="65.6" y="708" textLength="49.5" lengthAdjust="spacingAndGlyphs">16 Jan 2017</text>
<text x="129.6" y="708" textLength="49.5" lengthAdjust="spacingAndGlyphs">26 Jan 2017</text>
<text x="193.6" y="708" textLength="46" lengthAdjust="spacingAndGlyphs">7 Feb 2017</text>
<text x="257.6" y="708" textLength="51" lengthAdjust="spacingAndGlyphs">17 Feb 2017</text>
<text x="321.6" y="708" textLength="45.7" lengthAdjust="spacingAndGlyphs">1 Mar 2017</text>
<text x="385.6" y="708" textLength="51" lengthAdjust="spacingAndGlyphs">13 Mar 2017</text>
<text x="449.6" y="708" textLength="51.4" lengthAdjust="spacingAndGlyphs">23 Mar 2017</text>
<text x="513.6" y="708" textLength="45.7" lengthAdjust="spacingAndGlyphs">4 Apr 2017</text>
<text x="577.6" y="708" textLength="50.4" lengthAdjust="spacingAndGlyphs">14 Apr 2017</text>
<text x="641.6" y="708" textLength="50.7" lengthAdjust="spacingAndGlyphs">26 Apr 2017</text>
<text x="705.6" y="708" textLength="50" lengthAdjust="spacingAndGlyphs">8 May 2017</text>
<text x="769.6" y="708" textLength="54.7" lengthAdjust="spacingAndGlyphs">18 May 2017</text>
<text x="833.6" y="708" textLength="54.4" lengthAdjust="spacingAndGlyphs">30 May 2017</text>
<text x="897.6" y="708" textLength="44.4" lengthAdjust="spacingAndGlyphs">9 Jun 2017</text>
<text x="961.6" y="708" textLength="49.4" lengthAdjust="spacingAndGlyphs">21 Jun 2017</text>
<text x="1243.7" y="36" textLength="32.4" lengthAdjust="spacingAndGlyphs">118.210</text>
<text x="1243.7" y="69" textLength="32.4" lengthAdjust="spacingAndGlyphs">117.685</text>
<text x="1243.7" y="102" textLength="32.4" lengthAdjust="spacingAndGlyphs">117.175</text>
<text x="1243.7" y="135" textLength="32.4" lengthAdjust="spacingAndGlyphs">116.665</text>
<text x="1243.7" y="168" textLength="32.4" lengthAdjust="spacingAndGlyphs">116.140</text>
<text x="1243.7" y="201" textLength="32.4" lengthAdjust="spacingAndGlyphs">115.630</text>
<text x="1243.7" y="234" textLength="32.4" lengthAdjust="spacingAndGlyphs">115.105</text>
<text x="1243.7" y="267" textLength="32.4" lengthAdjust="spacingAndGlyphs">114.595</text>
<text x="1243.7" y="300" textLength="32.4" lengthAdjust="spacingAndGlyphs">114.085</text>
<text x="1243.7" y="333" textLength="32.4" lengthAdjust="spacingAndGlyphs">113.560</text>
<text x="1243.7" y="366" textLength="32.4" lengthAdjust="spacingAndGlyphs">113.050</text>
<text x="1243.7" y="399" textLength="32.4" lengthAdjust="spacingAndGlyphs">112.540</text>
<text x="1243.7" y="432" textLength="32.4" lengthAdjust="spacingAndGlyphs">112.015</text>
<text x="1243.7" y="465" textLength="32.4" lengthAdjust="spacingAndGlyphs">111.505</text>
<text x="1243.7" y="498" textLength="32.4" lengthAdjust="spacingAndGlyphs">110.995</text>
<text x="1243.7" y="531" textLength="32.4" lengthAdjust="spacingAndGlyphs">110.470</text>
<text x="1243.7" y="564" textLength="32.4" lengthAdjust="spacingAndGlyphs">109.960</text>
<text x="1243.7" y="597" textLength="32.4" lengthAdjust="spacingAndGlyphs">109.450</text>
<text x="1243.7" y="630" textLength="32.4" lengthAdjust="spacingAndGlyphs">108.925</text>
<text x="1243.7" y="663" textLength="32.4" lengthAdjust="spacingAndGlyphs">108.415</text>
<text x="1243.7" y="696" textLength="32.4" lengthAdjust="spacingAndGlyphs">107.905</text>
<text x="1218.3" y="264" textLength="17.8" lengthAdjust="spacingAndGlyphs">23.6</text>
<text x="1218.3" y="428.3" textLength="17.8" lengthAdjust="spacingAndGlyphs">38.2</text>
<text x="1218.3" y="560" textLength="17.8" lengthAdjust="spacingAndGlyphs">50.0</text>
<text x="1218.3" y="692" textLength="17.8" lengthAdjust="spacingAndGlyphs">61.8</text>
<rect x="1239" y="231" width="39" height="11" fill="#f00" shape-rendering="crispEdges"/>
<text class="w" x="1243.8" y="240" textLength="32.1" lengthAdjust="spacingAndGlyphs">115.000</text>
<rect x="1239" y="391" width="39" height="11" fill="#f00" shape-rendering="crispEdges"/>
<text class="w" x="1243.8" y="400" textLength="32.1" lengthAdjust="spacingAndGlyphs">112.500</text>
<rect x="1239" y="551" width="39" height="11" fill="#f00" shape-rendering="crispEdges"/>
<text class="w" x="1243.8" y="560" textLength="32.1" lengthAdjust="spacingAndGlyphs">110.000</text>
<rect x="1239" y="472" width="39" height="11" fill="#000" shape-rendering="crispEdges"/>
<text class="w" x="1243.8" y="481" textLength="32.1" lengthAdjust="spacingAndGlyphs">111.262</text>
</svg>
</body></html>
